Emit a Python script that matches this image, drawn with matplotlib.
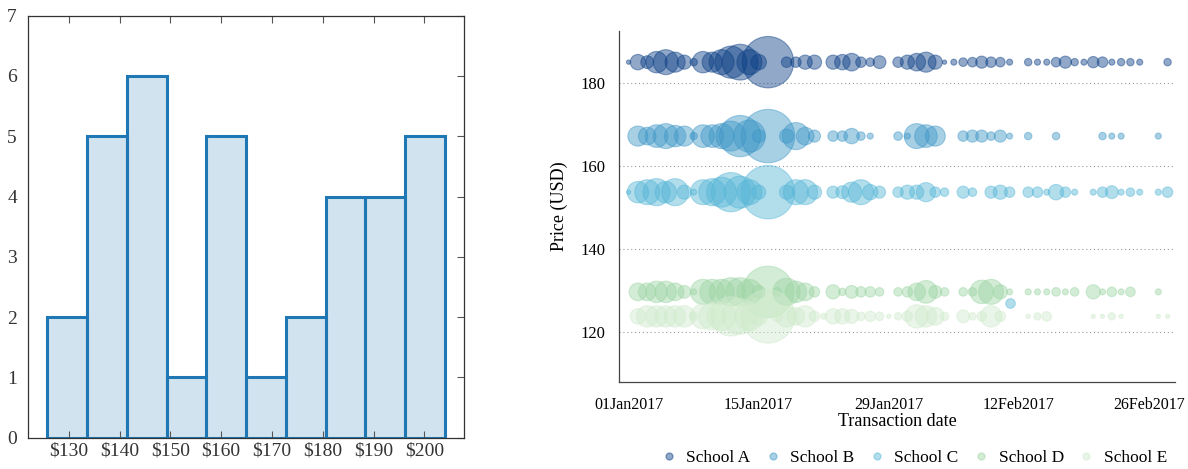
import matplotlib
matplotlib.use('Agg')
import matplotlib.pyplot as plt
import matplotlib.dates as mdates
from matplotlib.colors import to_rgba
from matplotlib.lines import Line2D
import numpy as np

plt.rcParams['font.family'] = ['Liberation Serif', 'DejaVu Serif']

# ---- left panel: histogram of prices ----
bin_edges = [125.8, 133.6, 141.5, 149.3, 157.1, 164.9, 172.8, 180.6, 188.4, 196.2, 204.0]
bin_counts = [2, 5, 6, 1, 5, 1, 2, 4, 4, 5]
hist_ticks = [130, 140, 150, 160, 170, 180, 190, 200]

# ---- right panel: daily transactions per school (day 0 = 01 Jan 2017) ----
start_date = np.datetime64('2017-01-01')
schools = ['School A', 'School B', 'School C', 'School D', 'School E']
school_price = [185.0, 167.2, 153.7, 129.7, 123.8]
school_colors = ['#0b3f85', '#3e97c7', '#56b6d7', '#9dd5a4', '#d0ebcc']

counts_a = [1, 13, 9, 25, 34, 22, 11, 3, 25, 22, 34, 56, 70, 34, 13, 144, 0, 6, 6, 11,
            11, 0, 11, 13, 17, 6, 4, 9, 0, 6, 11, 17, 22, 11, 1, 2, 4, 5, 8, 6,
            5, 2, 0, 3, 2, 2, 5, 8, 3, 2, 7, 6, 2, 3, 3, 2, 0, 0, 3]
counts_b = [0, 22, 17, 28, 34, 25, 22, 3, 28, 28, 34, 49, 93, 56, 9, 156, 0, 11, 40, 17,
            8, 0, 6, 6, 13, 4, 2, 0, 0, 4, 2, 34, 28, 22, 0, 0, 6, 8, 8, 4,
            8, 2, 0, 3, 0, 0, 3, 0, 0, 0, 0, 3, 2, 2, 0, 0, 0, 2, 0]
counts_c = [1, 25, 34, 40, 25, 40, 11, 2, 34, 40, 49, 84, 56, 34, 11, 156, 0, 11, 34, 34,
            11, 0, 8, 9, 22, 34, 13, 8, 0, 6, 11, 11, 20, 6, 4, 0, 8, 4, 0, 8,
            11, 6, 0, 6, 6, 2, 13, 6, 2, 0, 2, 6, 9, 2, 4, 2, 0, 2, 6]
counts_d = [0, 17, 17, 25, 25, 17, 9, 2, 34, 34, 34, 44, 44, 34, 9, 144, 4, 40, 25, 17,
            6, 0, 11, 3, 9, 6, 6, 4, 0, 4, 6, 17, 28, 9, 4, 0, 4, 4, 30, 34,
            11, 2, 0, 2, 2, 2, 4, 2, 4, 0, 11, 2, 5, 2, 5, 0, 0, 2, 0]
counts_e = [0, 13, 25, 25, 25, 25, 25, 4, 34, 40, 44, 84, 70, 44, 17, 156, 6, 25, 17, 25,
            6, 2, 13, 13, 11, 4, 6, 4, 1, 3, 6, 30, 25, 17, 4, 0, 9, 3, 5, 25,
            6, 0, 0, 1, 3, 5, 0, 0, 0, 0, 1, 1, 3, 1, 0, 0, 0, 1, 1]
school_counts = [counts_a, counts_b, counts_c, counts_d, counts_e]

# one off-row sale of School C
extra_day = 41
extra_price = 126.9
extra_count = 5

size_per_sale = 9.5

fig = plt.figure(figsize=(11.88, 4.69), dpi=100)

# left
ax1 = fig.add_axes([0.0236, 0.0667, 0.367, 0.8998])
edges = np.array(bin_edges)
ax1.bar(edges[:-1], bin_counts, width=np.diff(edges), align='edge',
        facecolor=to_rgba('#1f77b4', 0.2), edgecolor='#1f77b4', linewidth=2.2)
ax1.set_xlim(122.0, 207.8)
ax1.set_ylim(0, 7)
ax1.set_xticks(hist_ticks)
ax1.set_xticklabels(['$%d' % t for t in hist_ticks])
ax1.set_yticks(range(8))
ax1.tick_params(axis='both', direction='in', labelsize=14, color='#555555',
                top=True, right=True, left=False, length=5, labelcolor='#333333')
ax1.tick_params(axis='y', pad=8)
for sp in ax1.spines.values():
    sp.set_color('#333333')
    sp.set_linewidth(0.9)

# right
ax2 = fig.add_axes([0.521, 0.1855, 0.468, 0.7484])
days = np.arange(len(counts_a))
dates = start_date + days.astype('timedelta64[D]')
for name, price, color, counts in zip(schools, school_price, school_colors, school_counts):
    counts = np.array(counts)
    m = counts > 0
    ax2.scatter(dates[m], np.full(m.sum(), price), s=counts[m] * size_per_sale,
                color=color, alpha=0.45, edgecolor=color, linewidth=0.8, zorder=3)
ax2.scatter([start_date + np.timedelta64(extra_day, 'D')], [extra_price],
            s=extra_count * size_per_sale, color=school_colors[2], alpha=0.45,
            edgecolor=school_colors[2], linewidth=0.8, zorder=3)

ax2.set_xlim(start_date - np.timedelta64(25, 'h'), start_date + np.timedelta64(58 * 24 + 19, 'h'))
ax2.set_ylim(108, 192.5)
ax2.set_yticks([120, 140, 160, 180])
ax2.set_xticks(start_date + np.arange(0, 59, 14).astype('timedelta64[D]'))
ax2.xaxis.set_major_formatter(mdates.DateFormatter('%d%b%Y'))
ax2.tick_params(axis='x', length=0, pad=11, labelsize=11.5)
ax2.tick_params(axis='y', length=0, pad=10, labelsize=12)
ax2.yaxis.grid(True, linestyle=(0, (1, 2.5)), color='#999999', linewidth=0.8)
ax2.set_axisbelow(True)
for s in ['top', 'right']:
    ax2.spines[s].set_visible(False)
for s in ['left', 'bottom']:
    ax2.spines[s].set_color('#444444')
    ax2.spines[s].set_linewidth(0.9)
ax2.set_xlabel('Transaction date', fontsize=13, labelpad=0)
ax2.set_ylabel('Price (USD)', fontsize=13, labelpad=9)

handles = [Line2D([], [], marker='o', linestyle='', markersize=5, color=c, alpha=0.45,
                  markeredgecolor=c) for c in school_colors]
fig.legend(handles, schools, loc='center', bbox_to_anchor=(0.769, 0.024), ncol=5,
           frameon=False, fontsize=12.5, handlelength=1.0, handletextpad=0.5,
           columnspacing=0.8)

fig.savefig('out.png', dpi=100)
